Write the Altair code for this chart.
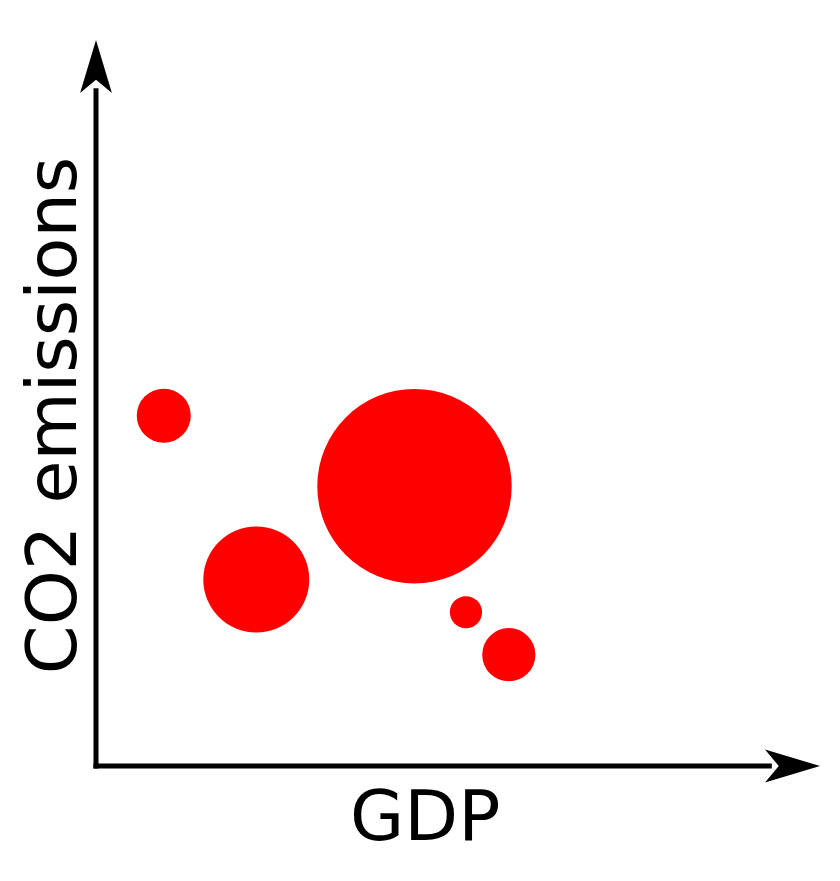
import altair as alt
import pandas as pd

# Bubble data (arbitrary units)
gdp = [9.36, 22.14, 43.99, 51.10, 57.02]
co2 = [48.25, 25.69, 38.54, 21.18, 15.33]
pop = [7.29, 28.09, 94.48, 2.59, 7.08]

bubbles = pd.DataFrame({"gdp": gdp, "co2": co2, "pop": pop})

# axis arrows (data coordinates)
y_axis_line = pd.DataFrame({"gdp": [0], "co2": [0], "co2_end": [93]})
x_axis_line = pd.DataFrame({"gdp": [0], "gdp_end": [93], "co2": [0]})
y_tip = pd.DataFrame({"gdp": [0], "co2": [100]})
x_tip = pd.DataFrame({"gdp": [100], "co2": [0]})

xs = alt.Scale(domain=[0, 100], nice=False, zero=False)
ys = alt.Scale(domain=[0, 100], nice=False, zero=False)

x_axis = alt.Axis(domain=False, ticks=False, labels=False, grid=False,
                  title="GDP", titleFontSize=70, titleFont="DejaVu Sans",
                  titleFontWeight="normal", titleColor="black",
                  titleX=328.7, titleY=73, titleAlign="center",
                  titleBaseline="alphabetic", titleAngle=0)
y_axis = alt.Axis(domain=False, ticks=False, labels=False, grid=False,
                  title="CO2 emissions", titleFontSize=70, titleFont="DejaVu Sans",
                  titleFontWeight="normal", titleColor="black",
                  titleX=-21, titleY=375, titleAlign="center",
                  titleBaseline="alphabetic", titleAngle=270)

X = alt.X("gdp:Q", scale=xs, axis=x_axis, title="GDP")
Y = alt.Y("co2:Q", scale=ys, axis=y_axis, title="CO2 emissions")

circles = alt.Chart(bubbles).mark_circle(color="#ff0000", opacity=1).encode(
    x=X, y=Y,
    size=alt.Size("pop:Q", scale=alt.Scale(domain=[0, 100], range=[0, 40000]), legend=None),
)

yline = alt.Chart(y_axis_line).mark_rule(color="black", strokeWidth=5, strokeCap="square").encode(
    x=X, y=Y, y2="co2_end:Q",
)
xline = alt.Chart(x_axis_line).mark_rule(color="black", strokeWidth=5, strokeCap="square").encode(
    x=X, x2="gdp_end:Q", y=Y,
)

arrow_shape = "M0,0L0.6,2L0,1.5L-0.6,2Z"
ytip = alt.Chart(y_tip).mark_point(shape=arrow_shape, filled=True, color="black",
                                   opacity=1, size=2809, strokeWidth=0).encode(x=X, y=Y)
xtip = alt.Chart(x_tip).mark_point(shape=arrow_shape, filled=True, color="black",
                                   opacity=1, size=3025, strokeWidth=0, angle=90).encode(x=X, y=Y)

chart = alt.layer(circles, yline, xline, ytip, xtip).properties(
    width=724, height=726,
    autosize=alt.AutoSizeParams(type="none"),
    padding={"left": 88, "top": 32, "right": 12, "bottom": 107},
    background="white",
).configure_view(stroke=None)

chart.save("out.html", embed_options={"renderer": "svg", "actions": False})
